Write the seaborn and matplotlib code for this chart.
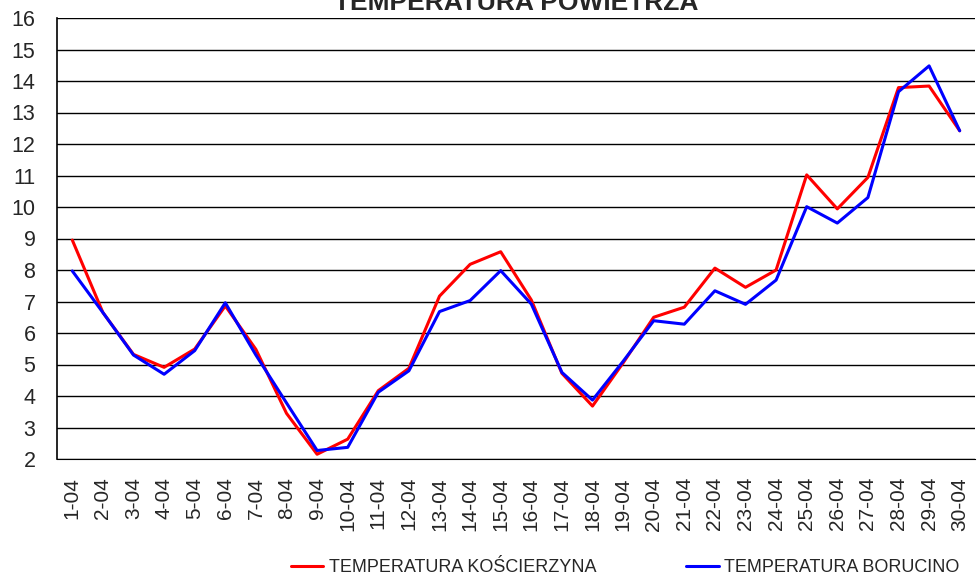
import pandas as pd
import numpy as np
import seaborn as sns
import matplotlib.pyplot as plt

# DATA
days = ["1-04", "2-04", "3-04", "4-04", "5-04", "6-04", "7-04", "8-04", "9-04", "10-04",
        "11-04", "12-04", "13-04", "14-04", "15-04", "16-04", "17-04", "18-04", "19-04", "20-04",
        "21-04", "22-04", "23-04", "24-04", "25-04", "26-04", "27-04", "28-04", "29-04", "30-04"]
koscierzyna = [8.95, 6.65, 5.32, 4.91, 5.49, 6.86, 5.48, 3.45, 2.15, 2.63,
               4.17, 4.88, 7.17, 8.18, 8.58, 7.05, 4.72, 3.68, 5.05, 6.50,
               6.82, 8.06, 7.45, 8.00, 11.02, 9.94, 10.94, 13.79, 13.84, 12.42]
borucino = [7.97, 6.65, 5.30, 4.69, 5.44, 6.96, 5.30, 3.78, 2.27, 2.37,
            4.12, 4.80, 6.68, 7.03, 7.98, 6.92, 4.75, 3.87, 5.10, 6.39,
            6.28, 7.34, 6.91, 7.68, 10.01, 9.49, 10.30, 13.66, 14.48, 12.42]
series_names = ["TEMPERATURA KOŚCIERZYNA", "TEMPERATURA BORUCINO"]

#BUILD LONG DATAFRAME
df = pd.DataFrame({"dzien": days, series_names[0]: koscierzyna, series_names[1]: borucino})
df["pos"] = range(len(df))
df_melt = pd.melt(df, id_vars=["dzien", "pos"], var_name="seria", value_name="temp")

sns.set_style("white")
plt.rcParams['font.family'] = ['Liberation Sans', 'DejaVu Sans']

fig = plt.figure(figsize=(9.77, 5.76), dpi=100)
ax = fig.add_axes([57 / 977, 1 - 459 / 576, (975 - 57) / 977, (459 - 18) / 576])

sns.lineplot(data=df_melt, x="pos", y="temp", hue="seria", hue_order=series_names,
             palette=["#ff0000", "#0000ff"], linewidth=2.2, ax=ax)

#AXES FORMATTING
ax.set_ylim(2, 16)
ax.set_yticks(np.arange(2, 17, 1))
ax.set_xlim(-0.5, len(days) - 0.5)
ax.set_xticks(np.arange(-0.5, len(days), 1))
ax.set_xticklabels([])
ax.set_xticks(np.arange(len(days)), minor=True)
ax.set_xticklabels(days, minor=True, rotation=90)
ax.tick_params(axis="x", which="major", direction="out", length=6, width=1, color="black")
ax.tick_params(axis="x", which="minor", length=0, pad=13, labelsize=15)
ax.tick_params(axis="y", direction="out", length=6.5, width=1, color="black", pad=9, labelsize=15.5)
ax.set_xlabel("")
ax.set_ylabel("")

ax.yaxis.grid(True, color="black", linewidth=1)
ax.xaxis.grid(False)
for side in ["top", "right"]:
    ax.spines[side].set_visible(False)
ax.spines["left"].set_color("black")
ax.spines["bottom"].set_color("black")
ax.spines["left"].set_linewidth(1.2)

ax.set_title("TEMPERATURA POWIETRZA", fontsize=19, fontweight="bold", pad=6)

#LEGEND BELOW
handles, labels = ax.get_legend_handles_labels()
ax.get_legend().remove()
fig.legend(handles, labels, loc="center", bbox_to_anchor=(0.64, 0.014), ncol=2,
           frameon=False, fontsize=13, handlelength=1.8, handletextpad=0.3,
           columnspacing=5)

plt.savefig("out.png", dpi=100)
